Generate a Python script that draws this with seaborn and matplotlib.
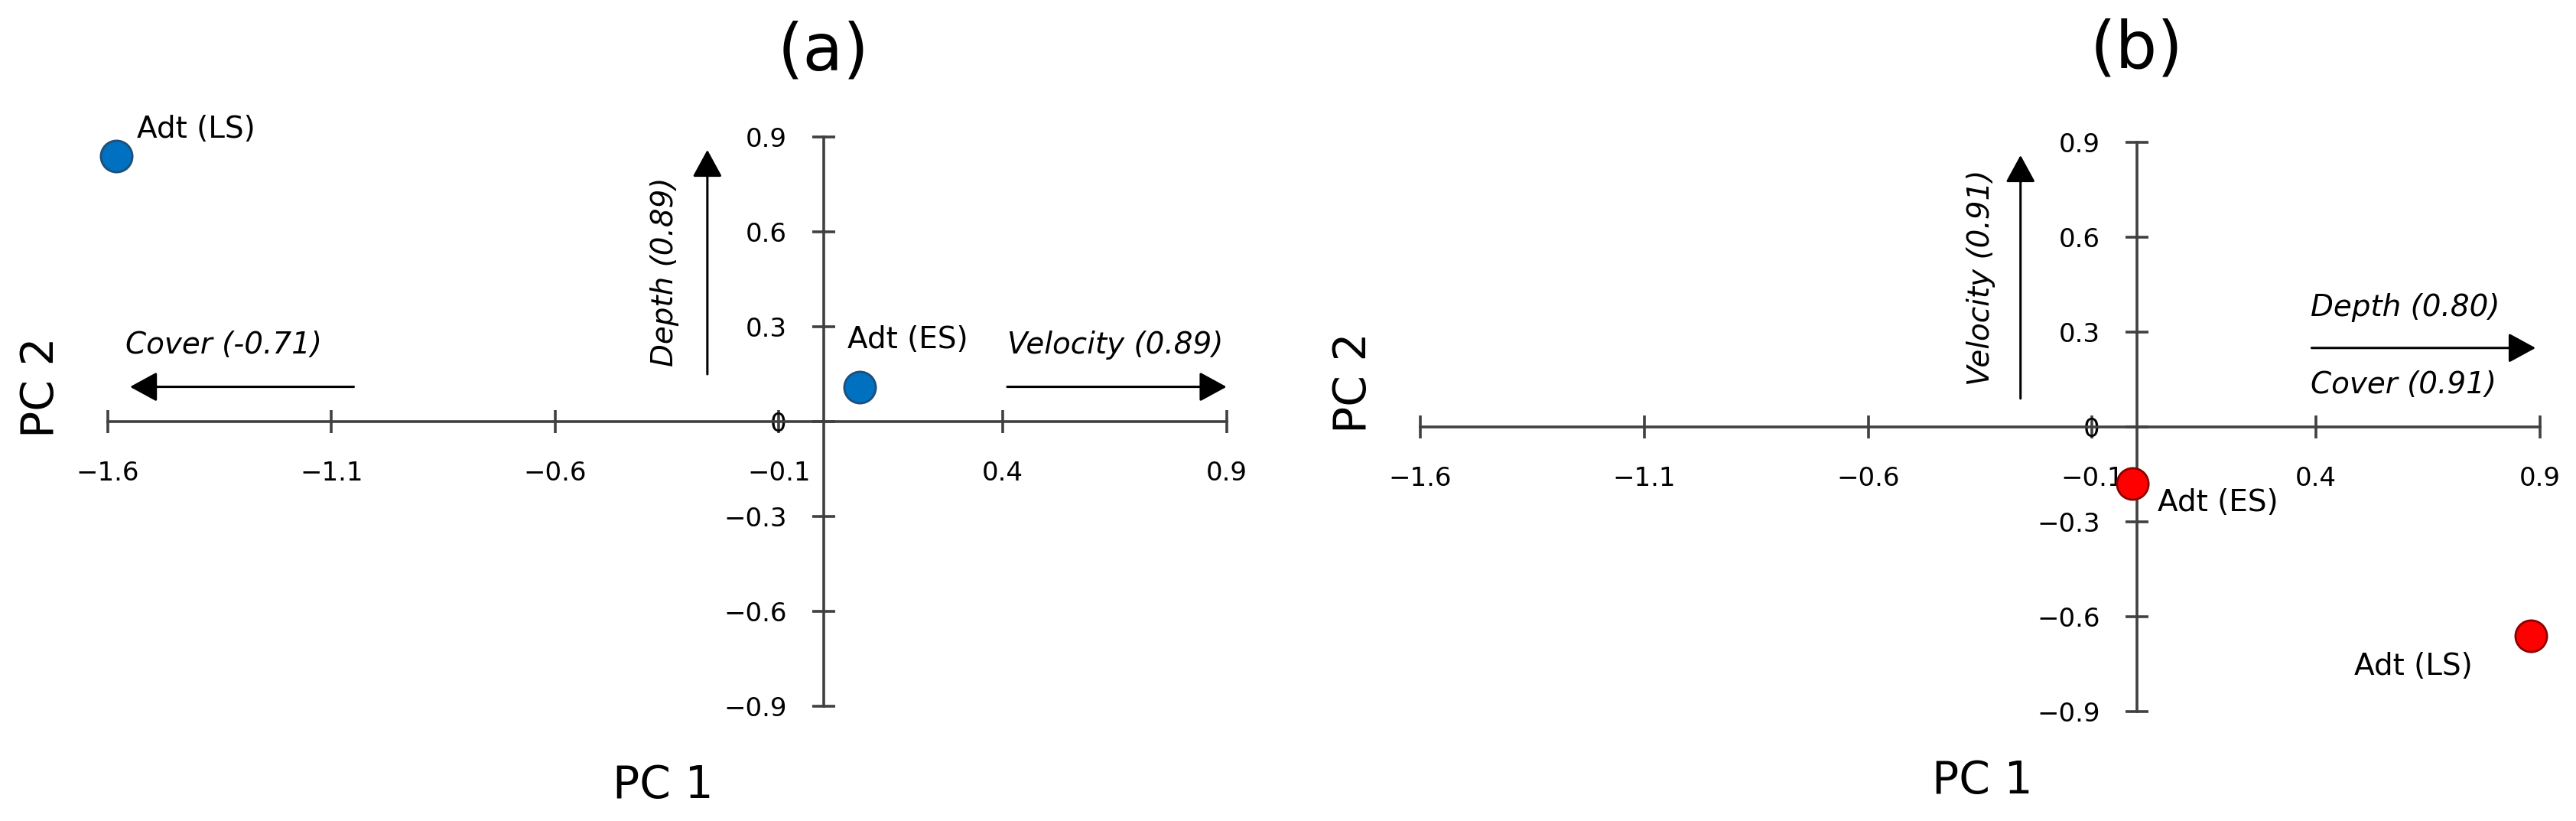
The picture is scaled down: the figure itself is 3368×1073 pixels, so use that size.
import matplotlib
matplotlib.use("Agg")
import matplotlib.pyplot as plt
import seaborn as sns
import pandas as pd

# ---------------- data ----------------
a_labels = ["Adt (LS)", "Adt (ES)"]
a_pc1 = [-1.58, 0.08]
a_pc2 = [0.84, 0.11]

b_labels = ["Adt (ES)", "Adt (LS)"]
b_pc1 = [-0.01, 0.88]
b_pc2 = [-0.18, -0.66]

# loading arrows: (start_x, start_y, end_x, end_y)
a_arrow_names = ["Velocity (0.89)", "Cover (-0.71)", "Depth (0.89)"]
a_arrow_start = [(0.41, 0.11), (-1.05, 0.11), (-0.26, 0.15)]
a_arrow_end = [(0.90, 0.11), (-1.55, 0.11), (-0.26, 0.86)]

b_arrow_names = ["Depth (0.80)", "Cover (0.91)", "Velocity (0.91)"]
b_arrow_start = [(0.39, 0.25), (0.39, 0.25), (-0.26, 0.09)]
b_arrow_end = [(0.89, 0.25), (0.89, 0.25), (-0.26, 0.86)]

x_ticks = [-1.6, -1.1, -0.6, -0.1, 0.4, 0.9]
x_tick_labels = ["\u22121.6", "\u22121.1", "\u22120.6", "\u22120.1", "0.4", "0.9"]
y_ticks = [-0.9, -0.6, -0.3, 0.0, 0.3, 0.6, 0.9]
y_tick_labels = ["\u22120.9", "\u22120.6", "\u22120.3", "0", "0.3", "0.6", "0.9"]

# ---------------- style ----------------
sns.set_theme(style="white")
plt.rcParams["font.family"] = ["DejaVu Sans"]
plt.rcParams["text.color"] = "black"

W, H, DPI = 3368, 1073, 100
fig = plt.figure(figsize=(W / DPI, H / DPI), dpi=DPI)

AXC = "#404040"


def setup_axes(ax, left_px, right_px, x0_px, y0_px, sx, sy):
    ax.set_xlim((left_px - x0_px) / sx, (right_px - x0_px) / sx)
    ax.set_ylim((y0_px - H) / sy, y0_px / sy)
    ax.set_facecolor("white")
    ax.grid(False)
    for s in ["top", "right"]:
        ax.spines[s].set_visible(False)
    ax.spines["left"].set_position(("data", 0))
    ax.spines["bottom"].set_position(("data", 0))
    ax.spines["left"].set_bounds(y_ticks[0], y_ticks[-1])
    ax.spines["bottom"].set_bounds(x_ticks[0], x_ticks[-1])
    for s in ["left", "bottom"]:
        ax.spines[s].set_color(AXC)
        ax.spines[s].set_linewidth(2.6)
    ax.set_xticks(x_ticks)
    ax.set_xticklabels(x_tick_labels)
    ax.set_yticks(y_ticks)
    ax.set_yticklabels(y_tick_labels)
    ax.tick_params(axis="both", which="major", bottom=True, left=True,
                   top=False, right=False, direction="inout", length=21.6,
                   width=2.6, color=AXC, labelsize=24.5, labelcolor="black")
    ax.tick_params(axis="x", pad=26)
    ax.tick_params(axis="y", pad=24)
    ax.set_xlabel("")
    ax.set_ylabel("")


def draw_arrows(ax, starts, ends):
    for (sx_, sy_), (ex, ey) in zip(starts, ends):
        ax.annotate("", xy=(ex, ey), xytext=(sx_, sy_),
                    arrowprops=dict(arrowstyle="-|>,head_length=22,head_width=12",
                                    mutation_scale=1, lw=2.2, color="black",
                                    shrinkA=0, shrinkB=0), zorder=3)


# ---------------- panel (a) ----------------
axA = fig.add_axes([0, 0, 0.5, 1])
setup_axes(axA, 0, 1684, 1077, 551, 585.2, 413)
dfa = pd.DataFrame({"PC1": a_pc1, "PC2": a_pc2, "label": a_labels})
sns.scatterplot(data=dfa, x="PC1", y="PC2", ax=axA, s=880, color="#0070C0",
                edgecolor="#1F4E79", linewidth=2, legend=False, zorder=5)
axA.set_xlabel("")
axA.set_ylabel("")
lab_off_a = {"Adt (LS)": (19, 25, "left"), "Adt (ES)": (-11.5, 44.6, "left")}
for lab, x, y in zip(a_labels, a_pc1, a_pc2):
    dx, dy, ha = lab_off_a[lab]
    axA.annotate(lab, xy=(x, y), xytext=(dx, dy), textcoords="offset points",
                 ha=ha, va="center", fontsize=28)
draw_arrows(axA, a_arrow_start, a_arrow_end)
axA.annotate(a_arrow_names[0], xy=a_arrow_start[0], xytext=(0, 39),
             textcoords="offset points", ha="left", va="center", fontsize=28, style="italic")
axA.annotate(a_arrow_names[1], xy=a_arrow_end[1], xytext=(-4, 39),
             textcoords="offset points", ha="left", va="center", fontsize=28, style="italic")
mid_d = ((a_arrow_start[2][0] + a_arrow_end[2][0]) / 2, (a_arrow_start[2][1] + a_arrow_end[2][1]) / 2)
axA.annotate(a_arrow_names[2], xy=mid_d, xytext=(-40, -9.4),
             textcoords="offset points", ha="center", va="center", fontsize=28,
             style="italic", rotation=90)
axA.annotate("(a)", xy=(0, 0.937), xycoords=("data", "axes fraction"),
             ha="center", va="center", fontsize=62)
axA.annotate("PC 2", xy=(0.032, 0.528), xycoords="axes fraction",
             ha="center", va="center", fontsize=42, rotation=90)
axA.annotate("PC 1", xy=(0.515, 0.043), xycoords="axes fraction",
             ha="center", va="center", fontsize=42)

# ---------------- panel (b) ----------------
axB = fig.add_axes([0.5, 0, 0.5, 1])
setup_axes(axB, 1684, 3368, 2794, 558, 585.6, 413)
dfb = pd.DataFrame({"PC1": b_pc1, "PC2": b_pc2, "label": b_labels})
sns.scatterplot(data=dfb, x="PC1", y="PC2", ax=axB, s=880, color="#FF0000",
                edgecolor="#8B0000", linewidth=2, legend=False, zorder=5)
axB.set_xlabel("")
axB.set_ylabel("")
lab_off_b = {"Adt (ES)": (23.8, -18, "left"), "Adt (LS)": (-55.4, -28.8, "right")}
for lab, x, y in zip(b_labels, b_pc1, b_pc2):
    dx, dy, ha = lab_off_b[lab]
    axB.annotate(lab, xy=(x, y), xytext=(dx, dy), textcoords="offset points",
                 ha=ha, va="center", fontsize=28)
draw_arrows(axB, b_arrow_start[1:], b_arrow_end[1:])
axB.annotate(b_arrow_names[0], xy=b_arrow_start[0], xytext=(-1, 38),
             textcoords="offset points", ha="left", va="center", fontsize=28, style="italic")
axB.annotate(b_arrow_names[1], xy=b_arrow_start[1], xytext=(-1, -35),
             textcoords="offset points", ha="left", va="center", fontsize=28, style="italic")
mid_v = ((b_arrow_start[2][0] + b_arrow_end[2][0]) / 2, (b_arrow_start[2][1] + b_arrow_end[2][1]) / 2)
axB.annotate(b_arrow_names[2], xy=mid_v, xytext=(-37.4, -1),
             textcoords="offset points", ha="center", va="center", fontsize=28,
             style="italic", rotation=90)
axB.annotate("(b)", xy=(0, 0.939), xycoords=("data", "axes fraction"),
             ha="center", va="center", fontsize=62)
axB.annotate("PC 2", xy=(0.051, 0.534), xycoords="axes fraction",
             ha="center", va="center", fontsize=42, rotation=90)
axB.annotate("PC 1", xy=(0.539, 0.049), xycoords="axes fraction",
             ha="center", va="center", fontsize=42)

fig.savefig("out.png", dpi=DPI, facecolor="white")
